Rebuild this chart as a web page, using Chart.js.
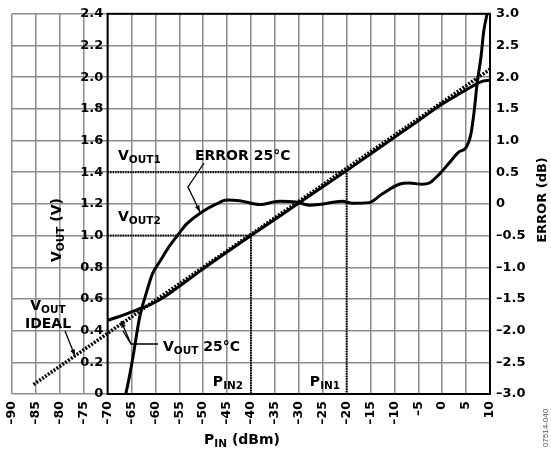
<!DOCTYPE html>
<html>
<head>
<meta charset="utf-8">
<script src="https://cdn.jsdelivr.net/npm/chart.js@4.4.0/dist/chart.umd.min.js"></script>
<style>
  body { margin: 0; background: #fff; }
  canvas { display: block; }
</style>
</head>
<body>
<canvas id="myChart" width="551" height="452"></canvas>
<script>
// readings taken off the plot: P_IN in dBm, V_OUT in V, error in dB
const idealPin = [-85.5, 10];
const idealVout = [0.06, 2.05];

const voutPin = [-70, -67, -64, -61, -58, -55, -50, -40, -30, -20, -10, -5, 0, 3, 5, 7, 8.5, 10];
const voutVolts = [0.465, 0.495, 0.53, 0.565, 0.615, 0.68, 0.79, 1.0, 1.205, 1.41, 1.62, 1.725, 1.83, 1.885, 1.92, 1.955, 1.975, 1.98];

const errorPin = [-66.2, -65.5, -64.7, -63.3, -61.8, -60.6, -59, -57, -55, -53.5, -50.1, -47.2, -45.1, -42.4, -38.2,
  -34.1, -30.6, -27.8, -25.7, -20.9, -18.8, -15.3, -12.5, -9, -6.9, -4.2, -2.7, -0.6, 1.4, 3.5, 5, 6, 6.7, 7.3, 8.1, 8.7, 9.4];
const errorDb = [-3.0, -2.75, -2.42, -1.79, -1.38, -1.1, -0.9, -0.66, -0.46, -0.32, -0.12, 0.0, 0.06, 0.05, -0.01,
  0.04, 0.03, -0.02, -0.01, 0.04, 0.01, 0.02, 0.16, 0.31, 0.33, 0.31, 0.33, 0.47, 0.64, 0.82, 0.89, 1.1, 1.47, 1.9, 2.31, 2.73, 3.0];

// the two marked operating points
const pin1 = -20, vout1 = 1.4;
const pin2 = -40, vout2 = 1.0;

const FONT = '"DejaVu Sans", "Liberation Sans", Arial, sans-serif';
const GRID = '#8c8c8c';

function toPoints(xs, ys) {
  return xs.map((x, i) => ({ x: x, y: ys[i] }));
}

function dash(s) {
  return String(s).replace('-', '\u2013');
}

// draws text made of pieces [text, size, yShift]
function richText(ctx, x, y, parts, align) {
  let total = 0;
  parts.forEach(p => {
    ctx.font = 'bold ' + p[1] + 'px ' + FONT;
    total += ctx.measureText(p[0]).width;
  });
  let cx = align === 'center' ? x - total / 2 : x;
  ctx.textAlign = 'left';
  ctx.textBaseline = 'alphabetic';
  parts.forEach(p => {
    ctx.font = 'bold ' + p[1] + 'px ' + FONT;
    ctx.fillText(p[0], cx, y + p[2]);
    cx += ctx.measureText(p[0]).width;
  });
}

function arrow(ctx, pts) {
  ctx.beginPath();
  ctx.moveTo(pts[0][0], pts[0][1]);
  for (let i = 1; i < pts.length; i++) ctx.lineTo(pts[i][0], pts[i][1]);
  ctx.stroke();
  const a = pts[pts.length - 2], b = pts[pts.length - 1];
  const ang = Math.atan2(b[1] - a[1], b[0] - a[0]);
  ctx.beginPath();
  ctx.moveTo(b[0], b[1]);
  ctx.lineTo(b[0] - 7 * Math.cos(ang - 0.35), b[1] - 7 * Math.sin(ang - 0.35));
  ctx.lineTo(b[0] - 7 * Math.cos(ang + 0.35), b[1] - 7 * Math.sin(ang + 0.35));
  ctx.closePath();
  ctx.fill();
}

const extras = {
  id: 'extras',
  beforeDatasetsDraw(chart) {
    const { ctx, scales: { x, y } } = chart;
    const l = x.getPixelForValue(-70), r = x.getPixelForValue(10);
    const t = y.getPixelForValue(2.4), b = y.getPixelForValue(0);
    ctx.save();
    ctx.strokeStyle = '#000';
    ctx.lineWidth = 2;
    ctx.strokeRect(l, t, r - l, b - t);
    ctx.restore();
  },
  afterDraw(chart) {
    const ctx = chart.ctx;
    ctx.save();
    ctx.fillStyle = '#000';
    ctx.strokeStyle = '#000';
    ctx.lineWidth = 1.3;

    richText(ctx, 118, 160, [['V', 14, 0], ['OUT1', 10.5, 3]]);
    richText(ctx, 118, 221, [['V', 14, 0], ['OUT2', 10.5, 3]]);
    richText(ctx, 195, 160, [['ERROR 25°C', 14, 0]]);
    arrow(ctx, [[204, 163], [188, 187], [200, 212]]);

    richText(ctx, 48, 310, [['V', 14, 0], ['OUT', 10.5, 3]], 'center');
    richText(ctx, 48, 328, [['IDEAL', 14, 0]], 'center');
    arrow(ctx, [[65, 331], [75, 356]]);

    richText(ctx, 163, 351, [['V', 14, 0], ['OUT', 10.5, 3], [' 25°C', 14, 0]]);
    ctx.beginPath();
    ctx.moveTo(158, 344);
    ctx.lineTo(131, 344);
    ctx.lineTo(123, 331);
    ctx.stroke();
    arrow(ctx, [[131, 344], [121, 321]]);

    richText(ctx, 228, 386, [['P', 14, 0], ['IN2', 10.5, 3]], 'center');
    richText(ctx, 325, 386, [['P', 14, 0], ['IN1', 10.5, 3]], 'center');

    // axis titles
    richText(ctx, 242, 444, [['P', 14, 0], ['IN', 10.5, 3], [' (dBm)', 14, 0]], 'center');

    ctx.save();
    ctx.translate(56, 230);
    ctx.rotate(-Math.PI / 2);
    richText(ctx, 0, 5, [['V', 14, 0], ['OUT', 10.5, 3], [' (V)', 14, 0]], 'center');
    ctx.restore();

    ctx.save();
    ctx.translate(541, 200);
    ctx.rotate(-Math.PI / 2);
    richText(ctx, 0, 5, [['ERROR (dB)', 13, 0]], 'center');
    ctx.restore();

    ctx.save();
    ctx.translate(546, 428);
    ctx.rotate(-Math.PI / 2);
    ctx.fillStyle = '#555';
    ctx.font = '8px "Liberation Sans", Arial, sans-serif';
    ctx.textAlign = 'center';
    ctx.textBaseline = 'middle';
    ctx.fillText('07514-040', 0, 0);
    ctx.restore();

    ctx.restore();
  }
};

const tickFont = { family: FONT, size: 13, weight: 'bold' };

new Chart(document.getElementById('myChart'), {
  type: 'scatter',
  data: {
    datasets: [
      {
        label: 'P_IN1',
        data: toPoints([-70, pin1, pin1], [vout1, vout1, 0]),
        showLine: true, borderColor: '#000', borderWidth: 2, borderDash: [1.5, 1],
        pointRadius: 0, tension: 0, yAxisID: 'y'
      },
      {
        label: 'P_IN2',
        data: toPoints([-70, pin2, pin2], [vout2, vout2, 0]),
        showLine: true, borderColor: '#000', borderWidth: 2, borderDash: [1.5, 1],
        pointRadius: 0, tension: 0, yAxisID: 'y'
      },
      {
        label: 'V_OUT ideal',
        data: toPoints(idealPin, idealVout),
        showLine: true, borderColor: '#000', borderWidth: 3.5, borderDash: [2, 1.5],
        pointRadius: 0, tension: 0, yAxisID: 'y'
      },
      {
        label: 'V_OUT 25°C',
        data: toPoints(voutPin, voutVolts),
        showLine: true, borderColor: '#000', borderWidth: 3,
        pointRadius: 0, cubicInterpolationMode: 'monotone', yAxisID: 'y'
      },
      {
        label: 'Error 25°C',
        data: toPoints(errorPin, errorDb),
        showLine: true, borderColor: '#000', borderWidth: 3,
        pointRadius: 0, cubicInterpolationMode: 'monotone', yAxisID: 'y2'
      }
    ]
  },
  options: {
    responsive: false,
    animation: false,
    devicePixelRatio: 1,
    layout: { padding: { left: 12, top: 13, right: 0, bottom: 0 } },
    plugins: { legend: { display: false }, tooltip: { enabled: false } },
    scales: {
      x: {
        type: 'linear', min: -90, max: 10,
        grid: { color: GRID, lineWidth: 1.5, drawTicks: false },
        border: { display: false },
        ticks: {
          stepSize: 5, autoSkip: false, maxRotation: 90, minRotation: 90,
          padding: 7, color: '#000', font: { family: FONT, size: 12.5, weight: 'bold' },
          callback: v => dash(v)
        },
        afterFit: s => { s.height = 58; }
      },
      y: {
        // labels sit just left of the -70 dBm frame edge
        position: { x: -70.9 }, min: 0, max: 2.4,
        grid: { color: GRID, lineWidth: 1.5, drawTicks: false },
        border: { display: false },
        ticks: {
          stepSize: 0.2, padding: 6, color: '#000', font: tickFont,
          callback: v => (v === 0 ? '0' : v.toFixed(1))
        }
      },
      y2: {
        position: 'right', min: -3, max: 3,
        grid: { display: false, drawTicks: false },
        border: { display: false },
        ticks: {
          stepSize: 0.5, padding: 6, color: '#000', font: tickFont,
          callback: v => (Math.abs(v) < 1e-9 ? '0' : dash(v.toFixed(1)))
        },
        afterFit: s => { s.width = 61; }
      }
    }
  },
  plugins: [extras]
});
</script>
</body>
</html>
